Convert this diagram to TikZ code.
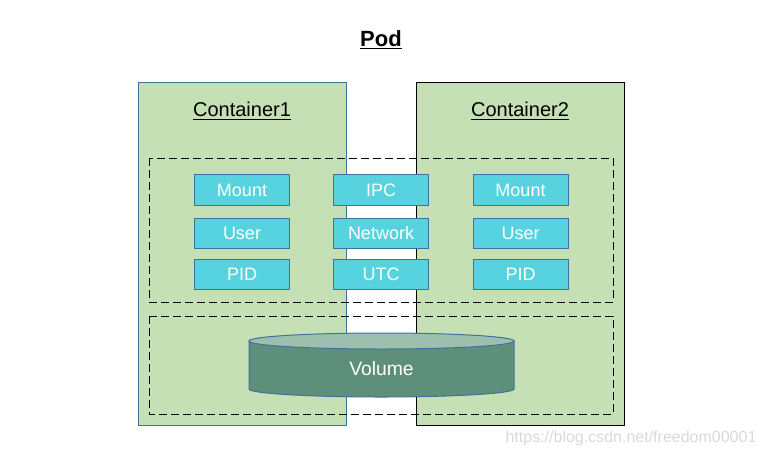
\documentclass[tikz,border=0pt]{standalone}
\usepackage{fontspec}
\setmainfont{Liberation Sans}
\definecolor{cgreen}{HTML}{C5E0B4}
\definecolor{bblue}{HTML}{41719C}
\definecolor{ncyan}{HTML}{56D3DE}
\definecolor{volbody}{HTML}{5E8F7B}
\definecolor{voltop}{HTML}{9DBFAE}
\definecolor{wmark}{HTML}{D9D9D9}
\tikzset{
  container/.style={draw, fill=cgreen, line width=0.75pt},
  nsbox/.style={draw=bblue, fill=ncyan, line width=0.75pt, minimum width=71.25pt, minimum height=23pt, inner sep=0pt, text=white, font=\fontsize{13.5}{15}\selectfont},
  dashbox/.style={draw, line width=0.75pt, dash pattern=on 6pt off 3pt},
  ctitle/.style={font=\fontsize{15}{18}\selectfont},
}
\begin{document}
\begin{tikzpicture}[x=0.75pt,y=-0.75pt]
\useasboundingbox (0,0) rectangle (762,457);
\node[font=\fontsize{16.5}{20}\selectfont\bfseries] (pod) at (381,40) {\underline{Pod}};
% containers
\draw[container, draw=bblue] (138,82) rectangle (346,425);
\draw[container, draw=black] (416,82) rectangle (624,425);
\node[ctitle] (c1) at (242,111) {\underline{Container1}};
\node[ctitle] (c2) at (520,111) {\underline{Container2}};
% dashed groups
\draw[dashbox] (149,158) rectangle (613,302);
\draw[dashbox] (149,316) rectangle (613,414);
% namespace boxes
\node[nsbox] (m1) at (242,190) {Mount};
\node[nsbox] (u1) at (242,233.5) {User};
\node[nsbox] (p1) at (242,274.5) {PID};
\node[nsbox] (ipc) at (381,190) {IPC};
\node[nsbox] (net) at (381,233.5) {Network};
\node[nsbox] (utc) at (381,274.5) {UTC};
\node[nsbox] (m2) at (520.5,190) {Mount};
\node[nsbox] (u2) at (520.5,233.5) {User};
\node[nsbox] (p2) at (520.5,274.5) {PID};
% volume cylinder
\draw[draw=bblue, fill=volbody, line width=0.75pt]
  (249,341) -- (249,389) arc[start angle=180, end angle=0, x radius=132.5, y radius=8] -- (514,341) -- cycle;
\draw[draw=bblue, fill=voltop, line width=0.75pt] (381.5,341) ellipse[x radius=132.5, y radius=8];
\node[text=white, font=\fontsize{14.5}{17}\selectfont] (vol) at (381.5,369) {Volume};
% watermark
\node[text=wmark, font=\fontsize{12}{14}\selectfont] (wm) at (631,438) {https://blog.csdn.net/freedom00001};
\end{tikzpicture}
\end{document}
